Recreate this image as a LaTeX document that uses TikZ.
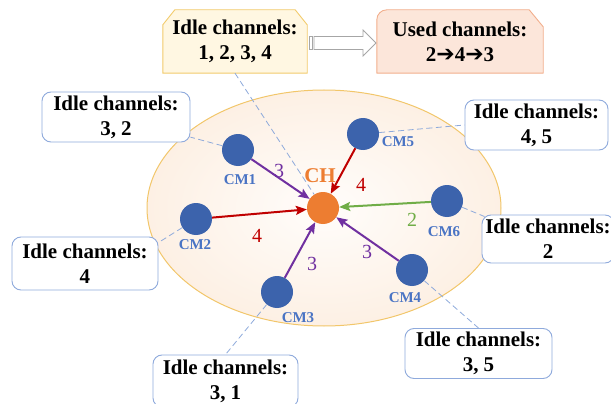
\documentclass[tikz,border=0pt]{standalone}
\usepackage{fontspec}
\setmainfont{Liberation Serif}
\newfontfamily\arrowfont{DejaVu Sans}
\usetikzlibrary{arrows.meta,backgrounds}

\definecolor{cmblue}{HTML}{3C63AC}
\definecolor{cmlabel}{HTML}{4A74C4}
\definecolor{chorange}{HTML}{ED7D31}
\definecolor{arrpurple}{HTML}{7030A0}
\definecolor{arrred}{HTML}{C00000}
\definecolor{arrgreen}{HTML}{70AD47}
\definecolor{boxline}{HTML}{8FAADC}
\definecolor{dashblue}{HTML}{8EAADB}
\definecolor{ringline}{HTML}{F2C66A}
\definecolor{ringfill}{HTML}{FDF0E4}
\definecolor{ringcore}{HTML}{FFFDFB}
\definecolor{topfill}{HTML}{FFF7E2}
\definecolor{topline}{HTML}{F2CB6B}
\definecolor{usedfill}{HTML}{FCE6DA}
\definecolor{usedline}{HTML}{F2AE8C}
\definecolor{blockgray}{HTML}{A6A6A6}

\newcommand{\thenarrow}{{\arrowfont\fontsize{22}{20}\selectfont ➔}}

\tikzset{
  member/.style={circle, fill=cmblue, minimum size=32pt, inner sep=0pt},
  head/.style={circle, fill=chorange, minimum size=32pt, inner sep=0pt},
  memname/.style={text=cmlabel, font=\fontsize{15}{17}\selectfont\bfseries, inner sep=0pt},
  chan/.style={font=\fontsize{20}{22}\selectfont, inner sep=0pt},
  idlebox/.style={draw=boxline, line width=0.9pt, rounded corners=9pt, fill=white,
    align=center, font=\fontsize{21}{25}\selectfont\bfseries, inner sep=0pt,
    minimum height=50pt},
  toptext/.style={align=center, font=\fontsize{21}{25}\selectfont\bfseries, inner sep=0pt,
    minimum height=63pt},
  link/.style={line width=2pt, -{Stealth[length=11pt,width=9pt,inset=2pt]}},
  tether/.style={draw=dashblue, line width=0.8pt, dash pattern=on 6pt off 3.5pt}
}

\begin{document}
\begin{tikzpicture}[x=1pt, y=-1pt]
\useasboundingbox (0,0) rectangle (611,404);

% cluster area
\draw[ringline, line width=1pt, inner color=ringcore, outer color=ringfill]
  (324,208) ellipse [x radius=177, y radius=118];

% cluster head and members
\node[head]   (ch)  at (323,208) {};
\node[member] (cm1) at (238,150) {};
\node[member] (cm2) at (196,219) {};
\node[member] (cm3) at (277,292) {};
\node[member] (cm4) at (412,270) {};
\node[member] (cm5) at (363,134) {};
\node[member] (cm6) at (447,201) {};

\node[text=chorange, font=\fontsize{21}{22}\selectfont\bfseries, inner sep=0pt] (chname) at (320,176) {CH};
\node[memname] (n1) at (240,180) {CM1};
\node[memname] (n2) at (195,245) {CM2};
\node[memname] (n3) at (298,318) {CM3};
\node[memname] (n4) at (405,298) {CM4};
\node[memname] (n5) at (398,142) {CM5};
\node[memname] (n6) at (444,232) {CM6};

% transmissions towards the cluster head
\draw[link, arrpurple] (cm1) -- (ch);
\draw[link, arrred]    (cm2) -- (ch);
\draw[link, arrpurple] (cm3) -- (ch);
\draw[link, arrpurple] (cm4) -- (ch);
\draw[link, arrred]    (cm5) -- (ch);
\draw[link, arrgreen]  (cm6) -- (ch);

\node[chan, text=arrpurple] (c1) at (279,171) {3};
\node[chan, text=arrred]    (c2) at (257,236) {4};
\node[chan, text=arrpurple] (c3) at (312,264) {3};
\node[chan, text=arrpurple] (c4) at (367,252) {3};
\node[chan, text=arrred]    (c5) at (361,185) {4};
\node[chan, text=arrgreen]  (c6) at (412,220) {2};

% idle channel lists of the members
\node[idlebox, minimum width=148pt] (b1) at (116,117)   {Idle channels:\\3, 2};
\node[idlebox, minimum width=146pt, minimum height=53pt] (b2) at (85,263.5) {Idle channels:\\4};
\node[idlebox, minimum width=145pt, minimum height=52pt] (b3) at (225.5,381) {Idle channels:\\3, 1};
\node[idlebox, minimum width=147pt] (b4) at (478.5,353.5) {Idle channels:\\3, 5};
\node[idlebox, minimum width=143pt] (b5) at (536.5,125) {Idle channels:\\4, 5};
\node[idlebox, minimum width=132pt, minimum height=48pt] (b6) at (548,239) {Idle channels:\\2};

% cluster head lists
\node[toptext, minimum width=144pt] (idle) at (235,41.5) {Idle channels:\\1, 2, 3, 4};
\node[toptext, minimum width=166pt] (used) at (460,41.5) {Used channels:\\2\thenarrow4\thenarrow3};

\begin{pgfonlayer}{background}
  \filldraw[draw=topline, fill=topfill, line width=0.9pt]
    (idle.south west) -- ([yshift=-15pt]idle.north west) -- ([xshift=12pt]idle.north west)
    -- ([xshift=-12pt]idle.north east) -- ([yshift=-15pt]idle.north east)
    -- (idle.south east) -- cycle;
  \filldraw[draw=usedline, fill=usedfill, line width=0.9pt, line join=round]
    (used.south west) -- ([yshift=-10pt]used.north west)
    arc[start angle=180, end angle=90, radius=10pt]
    -- ([xshift=-14pt]used.north east) -- ([yshift=-17pt]used.north east)
    -- (used.south east) -- cycle;
\end{pgfonlayer}

% block arrow from idle to used
\filldraw[draw=blockgray, fill=white, line width=0.8pt]
  (309,36.5) rectangle (312,49.5);
\filldraw[draw=blockgray, fill=white, line width=0.8pt, line join=miter]
  (314,36.5) -- (363,36.5) -- (363,30) -- (376,43) -- (363,56) -- (363,49.5)
  -- (314,49.5) -- cycle;

% dashed tethers from lists to nodes
\draw[tether] (idle.south) -- (ch);
\draw[tether] (cm1) -- (b1);
\draw[tether] (cm2) -- ([yshift=-6pt]b2.north east);
\draw[tether] (cm3) -- (b3.north);
\draw[tether] (cm4) -- (b4.north);
\draw[tether] (cm5) -- (b5.west);
\draw[tether] (cm6) -- ([xshift=3pt,yshift=-2pt]b6.north west);
\end{tikzpicture}
\end{document}
